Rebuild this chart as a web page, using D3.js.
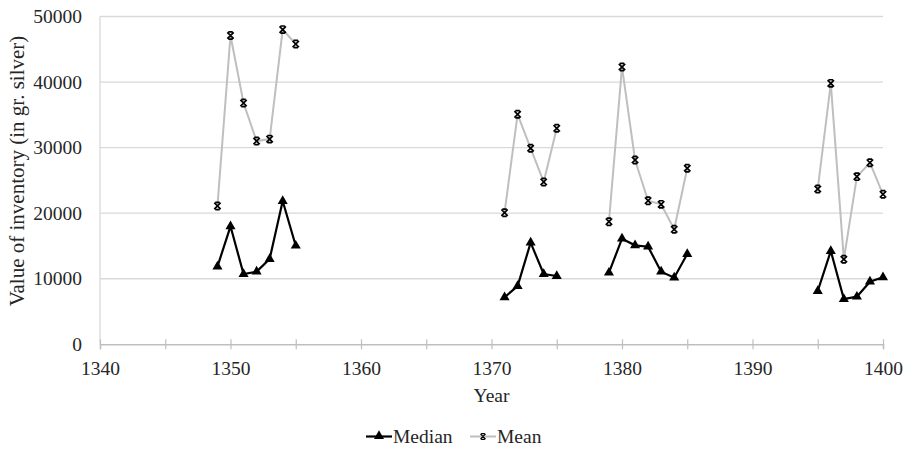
<!DOCTYPE html>
<html><head><meta charset="utf-8">
<script src="https://cdn.jsdelivr.net/npm/d3@7"></script>
<style>body{margin:0;background:#fff}svg{display:block}text{font-family:"Liberation Serif","Times New Roman",serif;fill:#262626}</style>
</head><body><svg id="c" width="907" height="450"></svg>
<script>
const years  = [1349,1350,1351,1352,1353,1354,1355, 1371,1372,1373,1374,1375, 1379,1380,1381,1382,1383,1384,1385, 1395,1396,1397,1398,1399,1400];
const median = [11850,18000,10720,11080,13010,21860,15040, 7170,8890,15500,10720,10420, 10920,16110,15100,14890,11080,10160,13770, 8130,14230,6910,7260,9550,10220];
const mean   = [21100,47100,36800,31000,31300,48000,45800, 20070,35080,29900,24760,32950, 18700,42300,28110,21900,21350,17540,26850, 23690,39800,12970,25570,27700,22880];
const xTicks = [1340,1350,1360,1370,1380,1390,1400];
const yTicks = [0,10000,20000,30000,40000,50000];
const seriesNames = ["Median","Mean"];

const FS = 19.5;
const svg = d3.select("#c");
const x = d3.scaleLinear().domain([1340,1400]).range([100,883]);
const y = d3.scaleLinear().domain([0,50000]).range([344.3,16.5]);

// gridlines
svg.append("g").selectAll("line").data(yTicks.filter(d=>d>0)).join("line")
  .attr("x1",100).attr("x2",883).attr("y1",d=>y(d)).attr("y2",d=>y(d))
  .attr("stroke","#d9d9d9").attr("stroke-width",1.3);
// left axis line
svg.append("line").attr("x1",100).attr("x2",100).attr("y1",y(50000)).attr("y2",y(0)).attr("stroke","#d9d9d9").attr("stroke-width",1.3);

// x axis
const xAxis = d3.axisBottom(x).tickValues(d3.range(1340,1401,5)).tickSize(5).tickFormat(d=> xTicks.includes(d)? d : "");
const gx = svg.append("g").attr("transform",`translate(0,${y(0)})`).call(xAxis);
gx.select(".domain").attr("stroke","#bfbfbf").attr("stroke-width",1.5);
gx.selectAll(".tick line").attr("stroke","#bfbfbf").attr("y1",-5).attr("y2",5).attr("stroke-width",1.2);
gx.selectAll(".tick text").attr("y",17).attr("font-size",FS).attr("fill","#262626").style("font-family","Liberation Serif");

// y axis labels
const yAxis = d3.axisLeft(y).tickValues(yTicks).tickSize(0).tickFormat(d3.format("d"));
const gy = svg.append("g").attr("transform","translate(100,0)").call(yAxis);
gy.select(".domain").remove();
gy.selectAll(".tick text").attr("x",-18).attr("font-size",FS).attr("fill","#262626").style("font-family","Liberation Serif");

// axis titles
svg.append("text").attr("x",491.5).attr("y",401.5).attr("text-anchor","middle").attr("font-size",FS).text("Year");
svg.append("text").attr("transform","translate(24,171) rotate(-90)").attr("text-anchor","middle").attr("font-size",21).text("Value of inventory (in gr. silver)");

// segments (break where years not consecutive)
function segments(vals){
  const segs=[]; let cur=[];
  years.forEach((yr,i)=>{
    if(i>0 && yr-years[i-1]>1){segs.push(cur);cur=[];}
    cur.push([yr,vals[i]]);
  });
  segs.push(cur); return segs;
}
const line = d3.line().x(d=>x(d[0])).y(d=>y(d[1]));

const starPath = "M-3.2,-3.2L3.2,3.2M-3.2,3.2L3.2,-3.2M-2.2,-3.6L2.2,-3.6M-2.2,3.6L2.2,3.6";
// mean
svg.append("g").selectAll("path").data(segments(mean)).join("path")
  .attr("d",line).attr("fill","none").attr("stroke","#bfbfbf").attr("stroke-width",2);
svg.append("g").selectAll("path").data(years.map((yr,i)=>[yr,mean[i]])).join("path")
  .attr("transform",d=>`translate(${x(d[0])},${y(d[1])})`).attr("d",starPath)
  .attr("stroke","#000").attr("stroke-width",1.7).attr("fill","none");

// median
svg.append("g").selectAll("path").data(segments(median)).join("path")
  .attr("d",line).attr("fill","none").attr("stroke","#000").attr("stroke-width",2.2);
const tri = d3.symbol().type(d3.symbolTriangle).size(44);
svg.append("g").selectAll("path").data(years.map((yr,i)=>[yr,median[i]])).join("path")
  .attr("transform",d=>`translate(${x(d[0])},${y(d[1])})`).attr("d",tri()).attr("fill","#000");

// legend
const lg = svg.append("g");
lg.append("line").attr("x1",366).attr("x2",392).attr("y1",436.5).attr("y2",436.5).attr("stroke","#000").attr("stroke-width",2.2);
lg.append("path").attr("transform","translate(379,436)").attr("d",tri()).attr("fill","#000");
lg.append("text").attr("x",393).attr("y",443).attr("font-size",FS).text(seriesNames[0]);
lg.append("line").attr("x1",470).attr("x2",496).attr("y1",436.5).attr("y2",436.5).attr("stroke","#bfbfbf").attr("stroke-width",2);
lg.append("path").attr("transform","translate(483,436.5) scale(0.8)").attr("d",starPath).attr("stroke","#000").attr("stroke-width",1.5).attr("fill","none");
lg.append("text").attr("x",497).attr("y",443).attr("font-size",FS).text(seriesNames[1]);
</script></body></html>
